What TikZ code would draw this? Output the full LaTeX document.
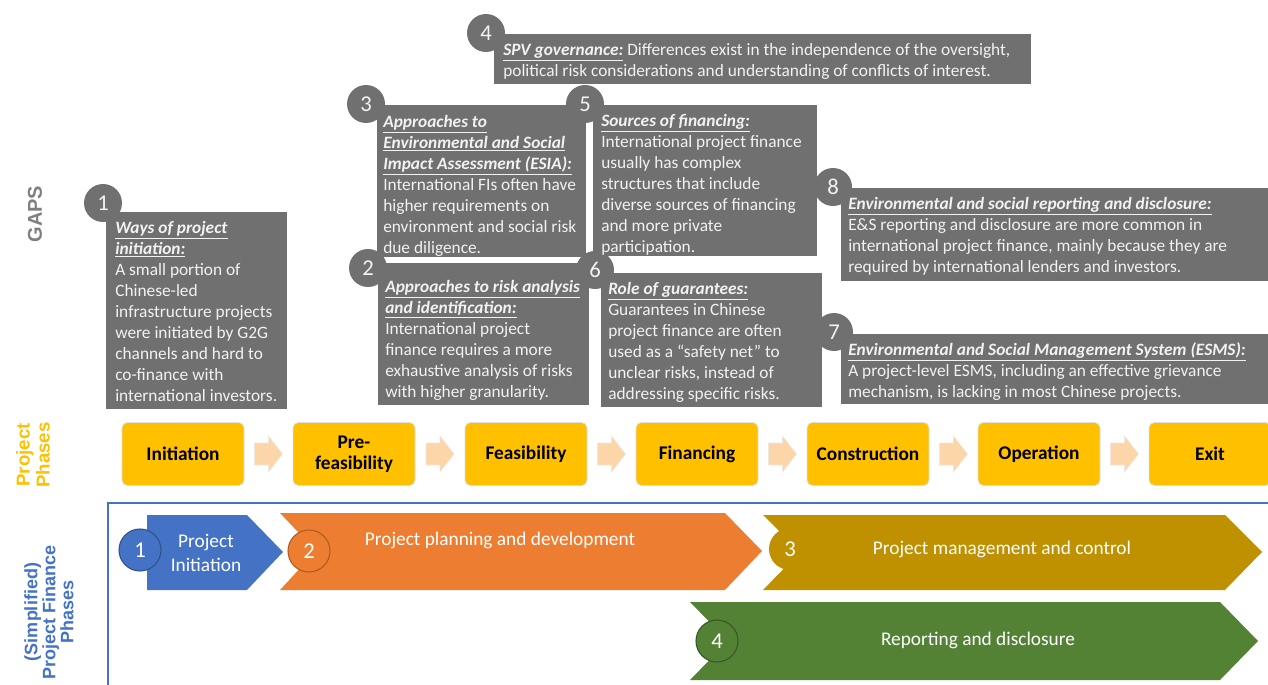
\documentclass[tikz,border=0pt]{standalone}
\usepackage{fontspec}
\setmainfont{Carlito}
\newfontfamily\labfont{Liberation Sans}
\usetikzlibrary{fit,calc}
\definecolor{gapgray}{RGB}{112,112,112}
\definecolor{gaptxt}{RGB}{242,242,242}
\definecolor{phy}{RGB}{255,192,0}
\definecolor{phyline}{RGB}{222,222,222}
\definecolor{peach}{RGB}{252,214,168}
\definecolor{peachline}{RGB}{238,232,225}
\definecolor{pfblue}{RGB}{68,114,196}
\definecolor{pfblued}{RGB}{47,82,143}
\definecolor{pforange}{RGB}{237,125,49}
\definecolor{pforanged}{RGB}{174,90,33}
\definecolor{pfgold}{RGB}{191,144,0}
\definecolor{pfgreen}{RGB}{84,130,53}
\definecolor{pfgreend}{RGB}{56,87,35}
\definecolor{labgray}{RGB}{127,127,127}
\newcommand{\ttl}[1]{\underline{\textbf{\textit{#1}}}}
\begin{document}
\begin{tikzpicture}[x=0.75pt,y=-0.75pt,
 gapbox/.style={fill=gapgray, draw=white, line width=1.2pt, inner sep=0pt},
 gapnum/.style={circle, fill=gapgray, minimum size=28.5pt, inner sep=0pt, text=gaptxt, font=\fontsize{17}{17}\selectfont},
 gaptext/.style={anchor=north west, inner sep=0pt, align=left, text=gaptxt, font=\fontsize{13}{15.75}\selectfont},
 phase/.style={fill=phy, draw=phyline, line width=0.6pt, rounded corners=4pt, minimum width=91.5pt, minimum height=47.25pt, align=center, font=\bfseries\fontsize{14.5}{15.5}\selectfont, inner sep=0pt},
 parrow/.style={fill=peach, draw=peachline, line width=0.4pt},
 chevtext/.style={text=white, font=\fontsize{14.5}{18}\selectfont, align=center, inner sep=0pt},
 pfnum/.style={circle, minimum size=31.5pt, inner sep=0pt, text=white, font=\fontsize{17}{17}\selectfont, line width=0.8pt},
 sidelab/.style={rotate=90, font=\labfont\bfseries\fontsize{14}{15}\selectfont, align=center}
]
\useasboundingbox (0,0) rectangle (1268,685);

% ---------- gap boxes ----------
\node[gapbox, fit={(493,33) (1032,85)}] (b4) {};
\node[gapbox, fit={(376,104) (587,258)}] (b3) {};
\node[gapbox, fit={(592,104) (818,257)}] (b5) {};
\node[gapbox, fit={(377,262) (590,406)}] (b2) {};
\node[gapbox, fit={(600,272) (823,408)}] (b6) {};
\node[gapbox, fit={(840,187) (1272,282)}] (b8) {};
\node[gapbox, fit={(840,333) (1272,405)}] (b7) {};
\node[gapbox, fit={(105,211) (288,410)}] (b1) {};

\node[gapnum] (n4) at (486,33) {4};
\node[gapnum] (n3) at (366,104) {3};
\node[gapnum] (n5) at (585,104) {5};
\node[gapnum] (n2) at (368,268) {2};
\node[gapnum] (n6) at (595,270) {6};
\node[gapnum] (n8) at (833,187) {8};
\node[gapnum] (n7) at (834,332) {7};
\node[gapnum] (n1) at (103,203) {1};

\node[gaptext] (t4) at (503,43) {\ttl{SPV governance:} Differences exist in the independence of the oversight,\\political risk considerations and understanding of conflicts of interest.};
\node[gaptext] (t3) at (383,115) {\ttl{Approaches to}\\\ttl{Environmental and Social}\\\ttl{Impact Assessment (ESIA):}\\International FIs often have\\higher requirements on\\environment and social risk\\due diligence.};
\node[gaptext] (t5) at (601,114) {\ttl{Sources of financing:}\\International project finance\\usually has complex\\structures that include\\diverse sources of financing\\and more private\\participation.};
\node[gaptext] (t2) at (385,280) {\ttl{Approaches to risk analysis}\\\ttl{and identification:}\\International project\\finance requires a more\\exhaustive analysis of risks\\with higher granularity.};
\node[gaptext] (t6) at (608,282) {\ttl{Role of guarantees:}\\Guarantees in Chinese\\project finance are often\\used as a “safety net” to\\unclear risks, instead of\\addressing specific risks.};
\node[gaptext] (t8) at (848,197) {\ttl{Environmental and social reporting and disclosure:}\\E\&S reporting and disclosure are more common in\\international project finance, mainly because they are\\required by international lenders and investors.};
\node[gaptext] (t7) at (848,342) {\ttl{Environmental and Social Management System (ESMS):}\\A project-level ESMS, including an effective grievance\\mechanism, is lacking in most Chinese projects.};
\node[gaptext] (t1) at (115,221) {\ttl{Ways of project}\\\ttl{initiation:}\\A small portion of\\Chinese-led\\infrastructure projects\\were initiated by G2G\\channels and hard to\\co-finance with\\international investors.};

% ---------- side labels ----------
\node[sidelab, text=labgray, font=\labfont\bfseries\fontsize{15}{16}\selectfont] (gaps) at (35,214) {GAPS};
\node[sidelab, text=phy] (pplab) at (33,455) {Project\\Phases};
\node[sidelab, text=pfblue, font=\labfont\bfseries\fontsize{13.5}{13.5}\selectfont] (pflab) at (49,612) {(Simplified)\\Project Finance\\Phases};

% ---------- project phases ----------
\node[phase] (p1) at (183,454) {Initiation};
\node[phase] (p2) at (354,454) {Pre-\\feasibility};
\node[phase] (p3) at (526,454) {Feasibility};
\node[phase] (p4) at (697,454) {Financing};
\node[phase] (p5) at (868,454) {Construction};
\node[phase] (p6) at (1039,454) {Operation};
\node[phase] (p7) at (1210,454) {Exit};
\foreach \a/\b in {p1/p2,p2/p3,p3/p4,p4/p5,p5/p6,p6/p7}{
  \coordinate (m\a) at ($(\a.east)!0.5!(\b.west)$);
  \draw[parrow] (m\a) +(-14,-11) -- +(0,-11) -- +(0,-18) -- +(14,0) -- +(0,18) -- +(0,11) -- +(-14,11) -- cycle;
}

% ---------- project finance phases ----------
\coordinate (fr1) at (108,690);
\coordinate (fr2) at (108,503);
\coordinate (fr3) at (1272,503);
\draw[pfblue, line width=1.8pt] (fr1) -- (fr2) -- (fr3);

\fill[pfblue] (147,515) -- (247,515) -- (283,552) -- (247,590) -- (147,590) -- cycle;
\fill[pforange] (280,513) -- (725,513) -- (762,551) -- (725,590) -- (280,590) -- (316,551) -- cycle;
\fill[pfgold] (763,515) -- (1225,515) -- (1262,552) -- (1225,590) -- (763,590) -- (800,552) -- cycle;
\fill[pfgreen] (690,602) -- (1220,602) -- (1258,641) -- (1220,680) -- (690,680) -- (728,641) -- cycle;

\node[pfnum, fill=pfblue, draw=pfblued] (c1) at (140,550) {1};
\node[pfnum, fill=pforange, draw=pforanged] (c2) at (309,551) {2};
\node[pfnum, fill=pfgold] (c3) at (790,549) {3};
\node[pfnum, fill=pfgreen, draw=pfgreend] (c4) at (717,641) {4};

\node[chevtext] (s1) at (206,553) {Project\\Initiation};
\node[chevtext] (s2) at (500,540) {Project planning and development};
\node[chevtext] (s3) at (1002,549) {Project management and control};
\node[chevtext] (s4) at (978,640) {Reporting and disclosure};
\end{tikzpicture}
\end{document}
